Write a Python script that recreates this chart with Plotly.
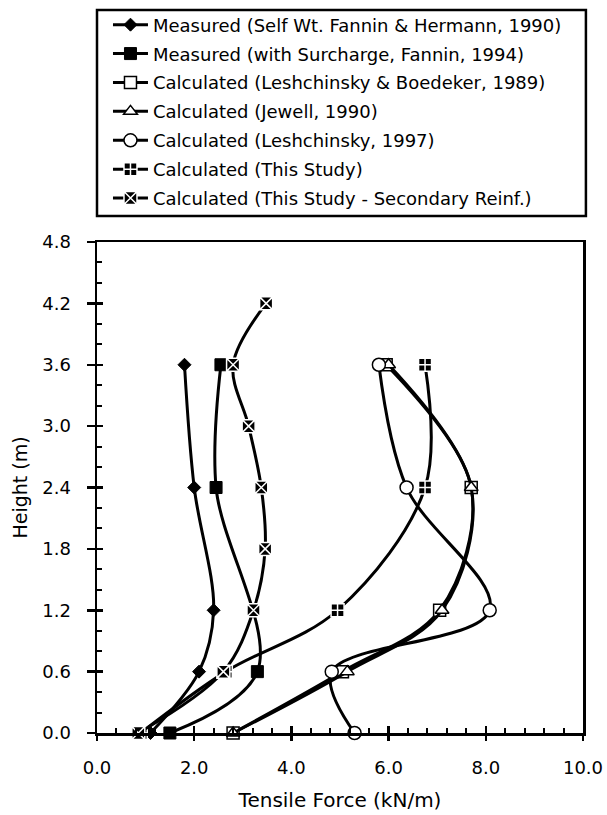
import plotly.graph_objects as go

# ---- data ----
heights_self = [0.0, 0.6, 1.2, 2.4, 3.6]
self_wt = [1.1, 2.1, 2.4, 2.0, 1.8]

heights_sur = [0.0, 0.6, 2.4, 3.6]
surcharge = [1.5, 3.3, 2.45, 2.55]

heights_calc = [0.0, 0.6, 1.2, 2.4, 3.6]
lesh_boed = [2.8, 5.05, 7.05, 7.7, 5.95]
jewell = [2.8, 5.15, 7.1, 7.7, 6.0]
lesh97 = [5.3, 4.83, 8.08, 6.37, 5.8]
this_study = [0.9, 2.65, 4.95, 6.75, 6.75]

heights_sec = [0.0, 0.6, 1.2, 1.8, 2.4, 3.0, 3.6, 4.2]
secondary = [0.85, 2.6, 3.22, 3.46, 3.38, 3.12, 2.8, 3.48]

names = [
    "Measured (Self Wt. Fannin & Hermann, 1990)",
    "Measured (with Surcharge, Fannin, 1994)",
    "Calculated (Leshchinsky & Boedeker, 1989)",
    "Calculated (Jewell, 1990)",
    "Calculated (Leshchinsky, 1997)",
    "Calculated (This Study)",
    "Calculated (This Study - Secondary Reinf.)",
]

x_ticks = [0, 2, 4, 6, 8, 10]
y_ticks = [0, 0.6, 1.2, 1.8, 2.4, 3.0, 3.6, 4.2, 4.8]

FONT = "DejaVu Sans, Arial, sans-serif"

series = [
    (self_wt, heights_self, dict(symbol="diamond", size=10, color="black", line=dict(color="black", width=1))),
    (surcharge, heights_sur, dict(symbol="square", size=12, color="black", line=dict(color="black", width=1))),
    (lesh_boed, heights_calc, dict(symbol="square", size=12, color="white", line=dict(color="black", width=1.5))),
    (jewell, heights_calc, dict(symbol="triangle-up", size=12, color="white", line=dict(color="black", width=1.5))),
    (lesh97, heights_calc, dict(symbol="circle", size=13, color="white", line=dict(color="black", width=1.5))),
    (this_study, heights_calc, dict(symbol="square-cross", size=13, color="black", line=dict(color="white", width=1.5))),
    (secondary, heights_sec, dict(symbol="square-x", size=13, color="black", line=dict(color="white", width=1.5))),
]

fig = go.Figure()
for i, ((xs, ys, mk), nm) in enumerate(zip(series, names)):
    fig.add_trace(go.Scatter(
        x=xs, y=ys, name=nm, mode="lines+markers", legendgroup=f"g{i}",
        line=dict(color="black", width=3, shape="spline", smoothing=1.0),
        marker=mk, cliponaxis=False,
    ))

# invisible trace on overlay axes (they draw the outward half of the major ticks)
fig.add_trace(go.Scatter(x=[0], y=[0], xaxis="x2", yaxis="y2", mode="markers",
                         marker=dict(opacity=0), showlegend=False, hoverinfo="skip"))

# plot area in pixels: x 97..583, y 242..733
fig.update_layout(
    width=607, height=815,
    margin=dict(l=97, r=24, t=242, b=82, pad=0, autoexpand=False),
    paper_bgcolor="white", plot_bgcolor="white",
    font=dict(family=FONT, color="black", size=16),
    showlegend=True,
    legend=dict(
        x=0.0226, y=1.4797, xanchor="left", yanchor="top",
        borderwidth=0, bgcolor="rgba(0,0,0,0)",
        font=dict(family=FONT, size=18, color="black"),
        itemwidth=35, tracegroupgap=2.5,
    ),
    shapes=[dict(type="rect", xref="paper", yref="paper",
                 x0=0.0, x1=1.006, y0=1.053, y1=1.4725,
                 line=dict(color="black", width=2.5), fillcolor="rgba(0,0,0,0)", layer="above")],
    xaxis=dict(
        range=[0, 10], tickvals=x_ticks, ticktext=[f"{v:.1f}" for v in x_ticks],
        showgrid=False, zeroline=False, automargin=False,
        showline=True, linecolor="black", linewidth=2.5, mirror=True,
        ticks="inside", ticklen=7, tickwidth=2.5, tickcolor="black",
        minor=dict(dtick=0.4, ticks="inside", ticklen=5, tickwidth=2, tickcolor="black", showgrid=False),
        tickfont=dict(family=FONT, size=18), ticklabelstandoff=17,
        title=dict(text="Tensile Force (kN/m)", font=dict(family=FONT, size=20), standoff=16),
    ),
    yaxis=dict(
        range=[0, 4.8], tickvals=y_ticks, ticktext=[f"{v:.1f}" for v in y_ticks],
        showgrid=False, zeroline=False, automargin=False,
        showline=True, linecolor="black", linewidth=2.5, mirror=True,
        ticks="inside", ticklen=6, tickwidth=2.5, tickcolor="black",
        minor=dict(dtick=0.2, ticks="inside", ticklen=5, tickwidth=2, tickcolor="black", showgrid=False),
        tickfont=dict(family=FONT, size=18), ticklabelstandoff=20,
        title=dict(text="Height (m)", font=dict(family=FONT, size=19), standoff=10),
    ),
    xaxis2=dict(overlaying="x", range=[0, 10], tickvals=x_ticks, showticklabels=False,
                ticks="outside", ticklen=7, tickwidth=2.5, tickcolor="black", automargin=False,
                showgrid=False, zeroline=False, showline=False, side="bottom"),
    yaxis2=dict(overlaying="y", range=[0, 4.8], tickvals=y_ticks, showticklabels=False,
                ticks="outside", ticklen=9, tickwidth=2.5, tickcolor="black", automargin=False,
                showgrid=False, zeroline=False, showline=False, side="left"),
)

fig.write_html(
    "out.html",
    config={"displayModeBar": False, "staticPlot": True},
    post_script="document.body.style.margin='0';document.body.style.overflow='hidden';",
)
